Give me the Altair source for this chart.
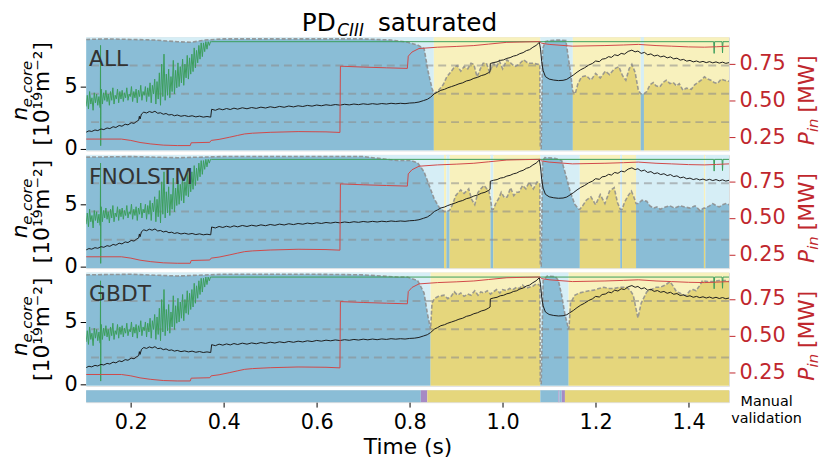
import altair as alt
import pandas as pd

T_START, T_END = 0.104, 1.487

DARK = {"blue": "#8abdd6", "yellow": "#e5d67c", "purple": "#a68ac4"}
LIGHT = {"blue": "#d6eef6", "yellow": "#f8f1bd"}
GREEN = "#3c9e5c"
BLACK = "#1c1c1c"
RED = "#d04848"
AXRED = "#c0272d"

GRID_LEVELS = [0.25, 0.5, 0.75]
NE_TICKS = [0, 5]
P_TICKS = [0.25, 0.5, 0.75]
X_TICKS = [0.2, 0.4, 0.6, 0.8, 1.0, 1.2, 1.4]
PANEL_NAMES = ["ALL", "FNOLSTM", "GBDT"]

# n_e,core (black line)
NE = [(0.104,1.34),(0.110,1.45),(0.116,1.40),(0.123,1.52),(0.129,1.47),(0.136,1.60),(0.142,1.55),(0.149,1.68),(0.155,1.63),(0.162,1.78),(0.168,1.72),(0.175,1.88),(0.181,1.82),(0.188,1.98),(0.194,1.93),(0.201,2.10),(0.207,2.05),(0.213,2.22),(0.217,2.30),(0.2185,2.62),(0.220,2.40),(0.223,2.80),(0.228,2.95),(0.234,2.88),(0.240,3.00),(0.246,2.92),(0.252,3.02),(0.258,2.86),(0.264,2.90),(0.270,2.78),(0.276,2.84),(0.282,2.72),(0.288,2.76),(0.294,2.66),(0.300,2.72),(0.308,2.62),(0.316,2.68),(0.324,2.60),(0.332,2.66),(0.340,2.57),(0.348,2.63),(0.356,2.55),(0.364,2.60),(0.372,2.55),
      (0.374,3.18),(0.382,3.10),(0.390,3.22),(0.398,3.14),(0.406,3.24),(0.414,3.16),(0.422,3.27),(0.430,3.19),(0.440,3.30),(0.450,3.22),(0.460,3.32),(0.470,3.25),(0.480,3.35),(0.490,3.28),(0.500,3.38),(0.510,3.31),(0.520,3.41),(0.530,3.34),(0.540,3.44),(0.550,3.37),(0.560,3.46),(0.570,3.40),(0.580,3.49),(0.590,3.43),(0.600,3.52),(0.610,3.46),(0.620,3.54),(0.630,3.49),(0.640,3.56),(0.650,3.51),(0.660,3.58),(0.670,3.53),(0.680,3.60),(0.690,3.55),(0.700,3.62),(0.710,3.57),(0.720,3.63),(0.730,3.58),(0.740,3.64),(0.750,3.60),(0.760,3.66),(0.770,3.62),(0.780,3.66),(0.790,3.63),(0.800,3.68),(0.810,3.70),(0.820,3.76),(0.830,3.88),(0.838,3.98),(0.845,4.15),(0.853,4.42),(0.860,4.55),(0.867,4.70),(0.875,4.78),(0.882,4.90),(0.890,5.00),(0.898,5.10),(0.906,5.22),(0.914,5.30),(0.922,5.45),(0.930,5.52),(0.938,5.66),(0.946,5.74),(0.954,5.88),(0.962,5.96),(0.970,6.12),(0.973,6.20),(0.9735,6.85),(0.980,6.92),(0.988,6.98),(0.995,7.10),(1.002,7.14),(1.009,7.26),(1.016,7.32),(1.023,7.44),(1.030,7.50),(1.037,7.64),(1.044,7.72),(1.051,7.88),(1.058,7.96),(1.065,8.15),(1.072,8.30),(1.079,8.55),(1.0815,8.00),(1.084,7.00),(1.087,6.30),(1.092,5.80),(1.100,5.60),(1.110,5.52),(1.120,5.48),(1.130,5.50),(1.138,5.58),(1.145,5.75),(1.152,5.92),(1.160,6.15),(1.168,6.35),(1.176,6.50),(1.185,6.72),(1.193,6.85),(1.200,7.05),(1.208,7.00),(1.214,7.20),(1.221,7.24),(1.228,7.40),(1.234,7.34),(1.241,7.55),(1.248,7.48),(1.255,7.66),(1.262,7.60),(1.270,7.82),(1.278,7.92),(1.285,7.78),(1.291,7.85),(1.298,7.66),(1.305,7.74),(1.312,7.55),(1.319,7.62),(1.326,7.45),(1.333,7.52),(1.340,7.38),(1.347,7.45),(1.354,7.30),(1.361,7.38),(1.368,7.22),(1.375,7.28),(1.382,7.12),(1.389,7.18),(1.396,7.04),(1.403,7.10),(1.410,6.98),(1.417,7.05),(1.424,6.95),(1.431,7.02),(1.438,6.92),(1.445,7.00),(1.452,6.90),(1.459,6.98),(1.466,6.88),(1.473,6.96),(1.480,6.86),(1.487,6.92)]

# P_in [MW] (red line)
PIN = [(0.104,0.237),(0.18,0.237),(0.2,0.228),(0.22,0.214),(0.243,0.204),(0.27,0.196),(0.30,0.193),(0.328,0.193),(0.330,0.212),(0.37,0.215),(0.373,0.228),(0.39,0.235),(0.413,0.25),(0.43,0.262),(0.445,0.272),(0.462,0.277),(0.50,0.283),(0.56,0.288),(0.62,0.286),(0.650,0.282),(0.651,0.732),(0.70,0.726),(0.75,0.721),(0.795,0.717),(0.797,0.80),(0.805,0.828),(0.82,0.852),(0.86,0.861),(0.90,0.866),(0.938,0.872),(0.97,0.882),(1.009,0.894),(1.05,0.897),(1.080,0.899),(1.084,0.888),(1.10,0.88),(1.15,0.868),(1.22,0.872),(1.26,0.876),(1.292,0.88),(1.33,0.872),(1.363,0.868),(1.40,0.863),(1.434,0.861),(1.46,0.864),(1.487,0.868)]

# green signal: samples every 0.0025 s from 0.104
GREEN_T0, GREEN_DT = 0.104, 0.0025
GREEN_V = [3.4, 4.3, 3.2, 4.6, 3.6, 4.1, 3.1, 4.5, 3.7, 4.4,
           3.5, 4.2, 3.3, 4.8, 3.6, 4.5, 3.9, 4.7, 3.8, 4.4,
           3.5, 4.6, 3.9, 4.9, 3.6, 4.3, 4.0, 4.8, 3.7, 4.6,
           4.0, 4.7, 3.8, 4.5, 4.1, 4.9, 3.9, 4.4, 4.2, 5.0,
           3.8, 4.6, 4.1, 4.8, 3.7, 4.7, 4.2, 5.1, 3.9, 4.6,
           4.3, 5.0, 3.8, 4.9, 4.2, 5.3, 3.7, 5.1, 4.4, 5.6,
           3.6, 5.4, 4.0, 6.1, 3.5, 6.8, 4.2, 7.6, 3.9, 6.0,
           4.3, 6.4, 4.1, 5.8, 4.6, 7.1, 4.4, 6.3, 4.9, 6.9,
           5.0, 6.6, 5.3, 7.2, 5.1, 6.8, 5.7, 7.5, 5.6, 7.3,
           6.0, 7.6, 6.2, 8.1, 6.5, 7.9, 6.9, 8.3, 7.2, 8.5,
           7.4, 8.5, 7.8, 8.6, 8.0, 8.6, 8.3, 8.6]
GREEN_EXTRA = [(0.1345,3.3),(0.1350,8.3),(0.1353,0.26),(0.1358,4.5),(0.374,8.6),(1.454,8.6),(1.455,7.66),(1.456,8.6),(1.472,8.6),(1.473,7.7),(1.474,8.6),(1.487,8.6)]

# predicted class segments and probabilities per panel
SEG_ALL = [(0.104,0.852,"blue"),(0.852,1.081,"yellow"),(1.081,1.151,"blue"),(1.151,1.297,"yellow"),(1.297,1.304,"blue"),(1.304,1.487,"yellow")]
PROB_ALL = [(0.104,0.98),(0.15,0.985),(0.2,0.98),(0.25,0.975),(0.3,0.96),(0.33,0.955),(0.36,0.975),(0.4,0.985),(0.5,0.985),(0.6,0.985),(0.7,0.985),(0.76,0.975),(0.796,0.955),(0.817,0.93),(0.831,0.90),(0.840,0.69),(0.848,0.55),(0.852,0.50),(0.862,0.53),(0.872,0.58),(0.880,0.65),(0.888,0.69),(0.895,0.73),(0.902,0.75),(0.91,0.70),(0.917,0.74),(0.925,0.72),(0.932,0.77),(0.938,0.76),(0.945,0.65),(0.952,0.72),(0.958,0.77),(0.965,0.77),(0.972,0.69),(0.98,0.77),(0.987,0.74),(0.993,0.79),(1.0,0.72),(1.009,0.80),(1.018,0.77),(1.026,0.74),(1.035,0.76),(1.045,0.80),(1.055,0.77),(1.066,0.77),(1.076,0.76),(1.080,0.76),(1.081,0.02),(1.083,0.02),(1.086,0.90),(1.092,0.96),(1.10,0.97),(1.12,0.975),(1.136,0.97),(1.142,0.80),(1.146,0.69),(1.151,0.52),(1.156,0.50),(1.162,0.59),(1.17,0.65),(1.18,0.66),(1.19,0.62),(1.2,0.68),(1.21,0.64),(1.221,0.70),(1.23,0.67),(1.24,0.72),(1.25,0.74),(1.258,0.66),(1.265,0.62),(1.272,0.72),(1.278,0.76),(1.285,0.69),(1.292,0.53),(1.297,0.50),(1.304,0.50),(1.31,0.52),(1.317,0.58),(1.324,0.60),(1.33,0.57),(1.338,0.56),(1.345,0.60),(1.352,0.62),(1.36,0.59),(1.367,0.60),(1.374,0.57),(1.38,0.59),(1.388,0.53),(1.395,0.55),(1.406,0.54),(1.413,0.58),(1.42,0.60),(1.427,0.62),(1.434,0.65),(1.441,0.63),(1.448,0.62),(1.455,0.60),(1.462,0.59),(1.47,0.63),(1.477,0.62),(1.487,0.61)]

SEG_FNO = [(0.104,0.874,"blue"),(0.874,0.879,"yellow"),(0.879,0.886,"blue"),(0.886,0.974,"yellow"),(0.974,0.980,"blue"),(0.980,1.081,"yellow"),(1.081,1.166,"blue"),(1.166,1.253,"yellow"),(1.253,1.257,"blue"),(1.257,1.287,"yellow"),(1.287,1.433,"blue"),(1.433,1.436,"yellow"),(1.436,1.487,"blue")]
PROB_FNO = [(0.104,0.98),(0.2,0.985),(0.3,0.975),(0.4,0.985),(0.5,0.985),(0.6,0.985),(0.7,0.985),(0.774,0.95),(0.803,0.95),(0.817,0.93),(0.831,0.85),(0.842,0.73),(0.853,0.61),(0.863,0.54),(0.874,0.50),(0.879,0.50),(0.886,0.51),(0.892,0.56),(0.899,0.64),(0.905,0.67),(0.91,0.69),(0.917,0.66),(0.927,0.70),(0.933,0.61),(0.94,0.56),(0.947,0.67),(0.953,0.70),(0.96,0.73),(0.966,0.70),(0.97,0.69),(0.974,0.61),(0.977,0.52),(0.980,0.52),(0.986,0.58),(0.991,0.61),(0.997,0.67),(1.004,0.62),(1.01,0.63),(1.017,0.71),(1.024,0.64),(1.03,0.67),(1.035,0.67),(1.043,0.73),(1.05,0.70),(1.057,0.76),(1.066,0.70),(1.074,0.76),(1.080,0.75),(1.081,0.02),(1.083,0.02),(1.086,0.95),(1.091,0.976),(1.112,0.97),(1.127,0.95),(1.134,0.85),(1.138,0.79),(1.145,0.68),(1.155,0.565),(1.164,0.52),(1.166,0.52),(1.172,0.55),(1.18,0.60),(1.19,0.63),(1.2,0.56),(1.21,0.65),(1.22,0.57),(1.23,0.68),(1.24,0.71),(1.247,0.58),(1.253,0.52),(1.257,0.52),(1.262,0.58),(1.27,0.64),(1.277,0.68),(1.283,0.62),(1.287,0.57),(1.291,0.57),(1.3,0.60),(1.31,0.59),(1.317,0.55),(1.324,0.53),(1.332,0.54),(1.339,0.52),(1.35,0.54),(1.36,0.55),(1.37,0.53),(1.381,0.55),(1.392,0.54),(1.403,0.53),(1.414,0.55),(1.424,0.51),(1.433,0.53),(1.436,0.53),(1.445,0.55),(1.452,0.57),(1.46,0.55),(1.466,0.54),(1.473,0.56),(1.48,0.57),(1.487,0.56)]

SEG_GBDT = [(0.104,0.845,"blue"),(0.845,1.081,"yellow"),(1.081,1.142,"blue"),(1.142,1.487,"yellow")]
PROB_GBDT = [(0.104,0.98),(0.2,0.985),(0.3,0.97),(0.4,0.985),(0.5,0.985),(0.6,0.985),(0.7,0.98),(0.774,0.96),(0.795,0.96),(0.817,0.93),(0.831,0.82),(0.838,0.64),(0.845,0.50),(0.848,0.73),(0.853,0.77),(0.862,0.79),(0.874,0.80),(0.882,0.77),(0.889,0.79),(0.896,0.83),(0.903,0.80),(0.91,0.82),(0.917,0.79),(0.925,0.81),(0.932,0.80),(0.94,0.84),(0.947,0.80),(0.953,0.83),(0.96,0.82),(0.967,0.84),(0.974,0.81),(0.98,0.83),(0.987,0.85),(0.994,0.82),(1.0,0.85),(1.008,0.84),(1.015,0.86),(1.022,0.85),(1.03,0.87),(1.036,0.86),(1.043,0.89),(1.05,0.86),(1.057,0.87),(1.065,0.88),(1.072,0.90),(1.080,0.89),(1.081,0.02),(1.083,0.02),(1.087,0.93),(1.096,0.97),(1.113,0.965),(1.12,0.93),(1.127,0.80),(1.134,0.63),(1.142,0.50),(1.143,0.53),(1.146,0.73),(1.155,0.80),(1.165,0.82),(1.176,0.83),(1.186,0.84),(1.196,0.845),(1.207,0.86),(1.218,0.87),(1.229,0.86),(1.24,0.86),(1.252,0.87),(1.267,0.87),(1.275,0.84),(1.281,0.80),(1.286,0.70),(1.291,0.60),(1.298,0.73),(1.304,0.78),(1.31,0.83),(1.32,0.85),(1.33,0.87),(1.339,0.87),(1.35,0.89),(1.36,0.92),(1.367,0.88),(1.374,0.83),(1.381,0.82),(1.388,0.80),(1.395,0.80),(1.403,0.84),(1.41,0.85),(1.416,0.84),(1.423,0.88),(1.43,0.93),(1.44,0.92),(1.452,0.92),(1.465,0.93),(1.48,0.93),(1.487,0.92)]

# manual validation strip
SEG_MANUAL = [(0.104,0.824,"blue"),(0.824,0.838,"purple"),(0.838,1.081,"yellow"),(1.081,1.120,"blue"),(1.120,1.122,"purple"),(1.122,1.127,"blue"),(1.127,1.134,"purple"),(1.134,1.487,"yellow")]

W, H = 650, 114.5
FONT = "DejaVu Sans"

xscale = alt.Scale(domain=[T_START, T_END], nice=False, zero=False)
prob_scale = alt.Scale(domain=[0, 1], nice=False, zero=False)
ne_scale = alt.Scale(domain=[-0.12, 8.96], nice=False, zero=False)
p_scale = alt.Scale(domain=[0.16, 0.929], nice=False, zero=False)

ONE = pd.DataFrame({"k": [0]})

def txt(s, x, y, **kw):
    return alt.Chart(ONE).mark_text(text=s, font=FONT, **kw).encode(x=alt.value(x), y=alt.value(y))

ne_df = pd.DataFrame({"t": [a for a, b in NE], "v": [b for a, b in NE]})
pin_df = pd.DataFrame({"t": [a for a, b in PIN], "v": [b for a, b in PIN]})
g_pts = [(GREEN_T0 + i * GREEN_DT, v) for i, v in enumerate(GREEN_V)] + GREEN_EXTRA
g_pts.sort()
green_df = pd.DataFrame({"t": [a for a, b in g_pts], "v": [b for a, b in g_pts]})

ne_axis = alt.Axis(values=NE_TICKS, orient="left", title=None, domain=False, grid=False,
                   tickSize=6, tickColor="black", labelColor="black", labelFontSize=21,
                   labelPadding=3, labelFont=FONT)
p_axis = alt.Axis(values=P_TICKS, orient="right", format=".2f", title=None, domain=False, grid=False,
                  tickSize=6, tickColor=AXRED, labelColor=AXRED, labelFontSize=21,
                  labelPadding=4, labelFont=FONT)


def panel(label, segs, probs, with_title=False):
    seg_df = pd.DataFrame({"t0": [s[0] for s in segs], "t1": [s[1] for s in segs],
                           "light": [LIGHT[s[2]] for s in segs]})
    seg_df["lo"] = 0.0
    seg_df["hi"] = 1.0
    rows = []
    for i, (a, b, c) in enumerate(segs):
        for t, p in probs:
            if a - 1e-9 <= t <= b + 1e-9:
                rows.append({"t": t, "p": p, "seg": i, "dark": DARK[c]})
    area_df = pd.DataFrame(rows)
    prob_df = pd.DataFrame({"t": [q[0] for q in probs], "p": [q[1] for q in probs]})

    bg = alt.Chart(seg_df).mark_rect().encode(
        x=alt.X("t0:Q", scale=xscale, axis=None), x2="t1:Q",
        y=alt.Y("lo:Q", scale=prob_scale, axis=None), y2="hi:Q",
        color=alt.Color("light:N", scale=None))
    area = alt.Chart(area_df).mark_area(clip=True).encode(
        x=alt.X("t:Q", scale=xscale, axis=None),
        y=alt.Y("p:Q", scale=prob_scale, axis=None, stack=None),
        detail="seg:N", color=alt.Color("dark:N", scale=None))
    dash = alt.Chart(prob_df).mark_line(color="#8c8c8c", strokeDash=[4, 2], strokeWidth=1.6,
                                        opacity=0.85, clip=True).encode(
        x=alt.X("t:Q", scale=xscale, axis=None),
        y=alt.Y("p:Q", scale=prob_scale, axis=None))
    grid = alt.Chart(pd.DataFrame({"g": GRID_LEVELS})).mark_rule(
        color="#8a8a8a", opacity=0.55, strokeWidth=2, strokeDash=[8, 5]).encode(
        y=alt.Y("g:Q", scale=prob_scale, axis=None))
    prob_layer = alt.layer(bg, area, grid, dash)

    green = alt.Chart(green_df).mark_line(color=GREEN, strokeWidth=1, clip=True).encode(
        x=alt.X("t:Q", scale=xscale, axis=None),
        y=alt.Y("v:Q", scale=ne_scale, axis=ne_axis))
    black = alt.Chart(ne_df).mark_line(color=BLACK, strokeWidth=1, clip=True).encode(
        x=alt.X("t:Q", scale=xscale, axis=None),
        y=alt.Y("v:Q", scale=ne_scale, axis=ne_axis))
    ne_layer = alt.layer(green, black)

    red = alt.Chart(pin_df).mark_line(color=RED, strokeWidth=1, clip=True).encode(
        x=alt.X("t:Q", scale=xscale, axis=None),
        y=alt.Y("v:Q", scale=p_scale, axis=p_axis))

    yc = H / 2
    texts = [
        txt(label, 3, 29, fontSize=22, color="#333333", align="left", baseline="alphabetic"),
        # left axis title
        txt("n", -60, yc + 27, fontSize=22, fontStyle="italic", angle=270, align="left", baseline="alphabetic", color="black"),
        txt("e,core", -55, yc + 13.5, fontSize=15, fontStyle="italic", angle=270, align="left", baseline="alphabetic", color="black"),
        txt("[10\u00b9\u2079m\u207b\u00b2]", -38, yc, fontSize=22, angle=270, align="center", baseline="alphabetic", color="black"),
        # right axis title
        txt("P", W + 86, yc + 52, fontSize=22, fontStyle="italic", angle=270, align="left", baseline="alphabetic", color=AXRED),
        txt("in", W + 90, yc + 38.7, fontSize=15, fontStyle="italic", angle=270, align="left", baseline="alphabetic", color=AXRED),
        txt("[MW]", W + 86, yc + 19, fontSize=22, angle=270, align="left", baseline="alphabetic", color=AXRED),
    ]
    if with_title:
        texts += [
            txt("PD", 218, -6, fontSize=25, align="left", baseline="alphabetic", color="black"),
            txt("CIII", 254, -1, fontSize=17, fontStyle="italic", align="left", baseline="alphabetic", color="black"),
            txt("saturated", 295, -6, fontSize=25, align="left", baseline="alphabetic", color="black"),
        ]
    return alt.layer(prob_layer, ne_layer, red, *texts).resolve_scale(y="independent").properties(width=W, height=H)


p1 = panel(PANEL_NAMES[0], SEG_ALL, PROB_ALL, with_title=True)
p2 = panel(PANEL_NAMES[1], SEG_FNO, PROB_FNO)
p3 = panel(PANEL_NAMES[2], SEG_GBDT, PROB_GBDT)

man_df = pd.DataFrame({"t0": [s[0] for s in SEG_MANUAL], "t1": [s[1] for s in SEG_MANUAL],
                       "c": [DARK[s[2]] for s in SEG_MANUAL]})
man_df["lo"] = 0.0
man_df["hi"] = 1.0
x_axis = alt.Axis(values=X_TICKS, format=".1f", title="Time (s)", domain=False, grid=False,
                  tickSize=5, tickColor="black", labelColor="black", labelFontSize=21,
                  labelPadding=5, labelFont=FONT, titleFont=FONT, titleFontSize=22,
                  titleFontWeight="normal", titlePadding=4, titleColor="black")
strip = alt.layer(
    alt.Chart(man_df).mark_rect().encode(
        x=alt.X("t0:Q", scale=xscale, axis=x_axis), x2="t1:Q",
        y=alt.Y("lo:Q", scale=alt.Scale(domain=[0, 1]), axis=None), y2="hi:Q",
        color=alt.Color("c:N", scale=None)),
    txt("Manual\nvalidation", 688, 12, fontSize=14.5, lineBreak="\n", lineHeight=17,
        align="center", baseline="middle", color="black"),
).properties(width=W, height=12)

chart = alt.vconcat(p1, p2, p3, strip, spacing=4, bounds="flush").properties(
    padding={"left": 0, "top": 0, "right": 0, "bottom": 0}
).configure_view(stroke=None).configure(font=FONT)

chart.save("out.html", embed_options={"renderer": "svg", "actions": False})
